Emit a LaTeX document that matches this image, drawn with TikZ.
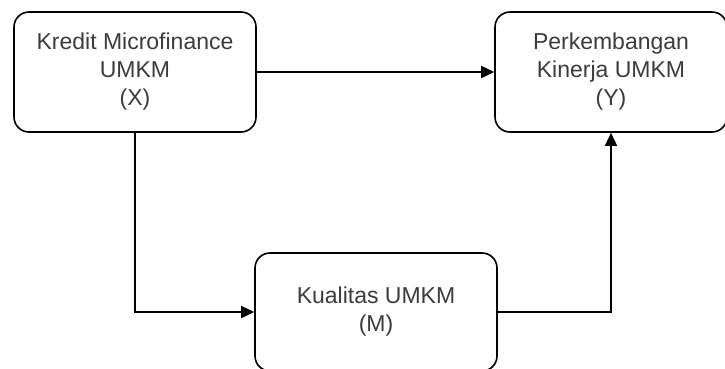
\documentclass[tikz,border=0pt]{standalone}
\usepackage{fontspec}
\setmainfont{Liberation Sans}
\usetikzlibrary{arrows.meta}
\definecolor{txt}{RGB}{60,60,60}
\begin{document}
\begin{tikzpicture}[x=1pt,y=-1pt,
  box/.style={draw=black,line width=1.6pt,rounded corners=15pt,fill=white,
    text=txt,align=center,inner sep=0pt,
    font=\fontsize{23}{28}\selectfont},
  conn/.style={draw=black,line width=1.6pt,-{Triangle[length=13pt,width=12pt]}}]
\useasboundingbox (0,0) rectangle (725,368);
\node[box,minimum width=242pt,minimum height=120pt] (X) at (135,72) {Kredit Microfinance\\UMKM\\(X)};
\node[box,minimum width=232pt,minimum height=120pt] (Y) at (611,72) {Perkembangan\\Kinerja UMKM\\(Y)};
\node[box,minimum width=242pt,minimum height=118pt] (M) at (376,312) {Kualitas UMKM\\(M)};
\draw[conn] (X.east) -- (Y.west);
\draw[conn] (X.south) |- (M.west);
\draw[conn] (M.east) -| (Y.south);
\end{tikzpicture}
\end{document}
